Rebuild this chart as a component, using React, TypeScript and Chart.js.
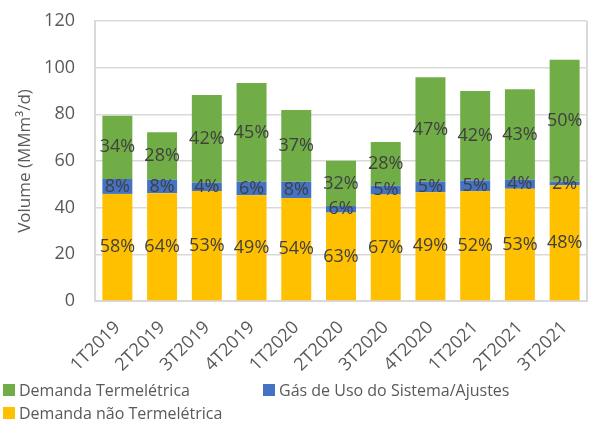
import React, { useEffect, useRef } from "react";
import { Chart, registerables } from "chart.js";

Chart.register(...registerables);

const categories = ["1T2019", "2T2019", "3T2019", "4T2019", "1T2020", "2T2020", "3T2020", "4T2020", "1T2021", "2T2021", "3T2021"];
const naoTermeletrica = [45.9, 46.2, 47.1, 45.3, 44.1, 37.9, 45.6, 46.6, 47.0, 48.1, 49.6];
const gasUso = [6.4, 5.8, 3.6, 5.8, 7.0, 2.8, 3.8, 4.5, 4.7, 3.9, 1.5];
const termeletrica = [27.1, 20.3, 37.6, 42.3, 30.8, 19.4, 18.7, 44.8, 38.3, 38.7, 52.3];

const naoPct = ["58%", "64%", "53%", "49%", "54%", "63%", "67%", "49%", "52%", "53%", "48%"];
const gasPct = ["8%", "8%", "4%", "6%", "8%", "6%", "5%", "5%", "5%", "4%", "2%"];
const termPct = ["34%", "28%", "42%", "45%", "37%", "32%", "28%", "47%", "42%", "43%", "50%"];

const seriesNames = ["Demanda não Termelétrica", "Gás de Uso do Sistema/Ajustes", "Demanda Termelétrica"];
const colors = ["#ffc000", "#4472c4", "#70ad47"];
const FONT = "'Open Sans', sans-serif";

const labelPlugin = {
  id: "segLabels",
  afterDatasetsDraw(chart: any) {
    const ctx = chart.ctx;
    const labelSets = [naoPct, gasPct, termPct];
    ctx.save();
    ctx.font = `18px ${FONT}`;
    ctx.fillStyle = "#404040";
    ctx.textAlign = "center";
    ctx.textBaseline = "middle";
    chart.data.datasets.forEach((ds: any, di: number) => {
      const meta = chart.getDatasetMeta(di);
      meta.data.forEach((el: any, i: number) => {
        const y = (el.y + el.base) / 2;
        ctx.fillText(labelSets[di][i], el.x, y);
      });
    });
    ctx.restore();
  },
};

export default function App() {
  const ref = useRef<HTMLCanvasElement | null>(null);
  useEffect(() => {
    document.body.style.margin = "0";
    const chart = new Chart(ref.current as HTMLCanvasElement, {
      type: "bar",
      data: {
        labels: categories,
        datasets: [
          { label: seriesNames[0], data: naoTermeletrica, backgroundColor: colors[0] },
          { label: seriesNames[1], data: gasUso, backgroundColor: colors[1] },
          { label: seriesNames[2], data: termeletrica, backgroundColor: colors[2] },
        ],
      },
      options: {
        animation: false,
        responsive: false,
        layout: { padding: { top: 0, right: 19, left: 0, bottom: 0 } },
        datasets: { bar: { categoryPercentage: 1, barPercentage: 0.67 } },
        plugins: { legend: { display: false }, tooltip: { enabled: false } },
        scales: {
          x: {
            stacked: true,
            grid: { display: false },
            border: { color: "#d9d9d9", width: 2 },
            ticks: {
              color: "#595959",
              font: { family: FONT, size: 18 },
              minRotation: 45,
              maxRotation: 45,
              padding: 8,
            },
            afterFit(scale: any) {
              scale.height = 79;
            },
          },
          y: {
            stacked: true,
            min: 0,
            max: 120,
            ticks: { stepSize: 20, color: "#595959", font: { family: FONT, size: 18 }, padding: 20 },
            grid: { color: "#d9d9d9", lineWidth: 1.5, drawTicks: false },
            border: { color: "#d9d9d9", width: 2 },
            title: {
              display: true,
              text: "Volume (MMm³/d)",
              color: "#595959",
              font: { family: FONT, size: 17 },
              padding: { top: 15, bottom: 0 },
            },
            afterFit(scale: any) {
              scale.width = 95;
              scale.paddingTop = 21;
              scale.paddingBottom = 11;
            },
          },
        },
      },
      plugins: [
        labelPlugin,
        {
          id: "rightBorder",
          afterDraw(c: any) {
            const a = c.chartArea;
            const ctx = c.ctx;
            ctx.save();
            ctx.strokeStyle = "#d9d9d9";
            ctx.lineWidth = 2;
            ctx.beginPath();
            ctx.moveTo(a.right, a.top);
            ctx.lineTo(a.right, a.bottom);
            ctx.stroke();
            ctx.restore();
          },
        },
      ],
    } as any);
    return () => chart.destroy();
  }, []);

  const legendItems = [
    { name: seriesNames[2], color: colors[2], left: 3, top: 380 },
    { name: seriesNames[1], color: colors[1], left: 263, top: 380 },
    { name: seriesNames[0], color: colors[0], left: 3, top: 403 },
  ];

  return (
    <div style={{ position: "fixed", left: 0, top: 0, width: 606, height: 421, background: "#fff" }}>
      <canvas ref={ref} width={606} height={380} style={{ display: "block" }} />
      {legendItems.map((it) => (
        <div
          key={it.name}
          style={{
            position: "absolute",
            left: it.left,
            top: it.top,
            display: "flex",
            alignItems: "center",
            fontFamily: FONT,
            fontSize: 16,
            color: "#595959",
            lineHeight: "20px",
            whiteSpace: "nowrap",
          }}
        >
          <span style={{ width: 12, height: 12, background: it.color, display: "inline-block", marginRight: 4 }} />
          {it.name}
        </div>
      ))}
    </div>
  );
}
